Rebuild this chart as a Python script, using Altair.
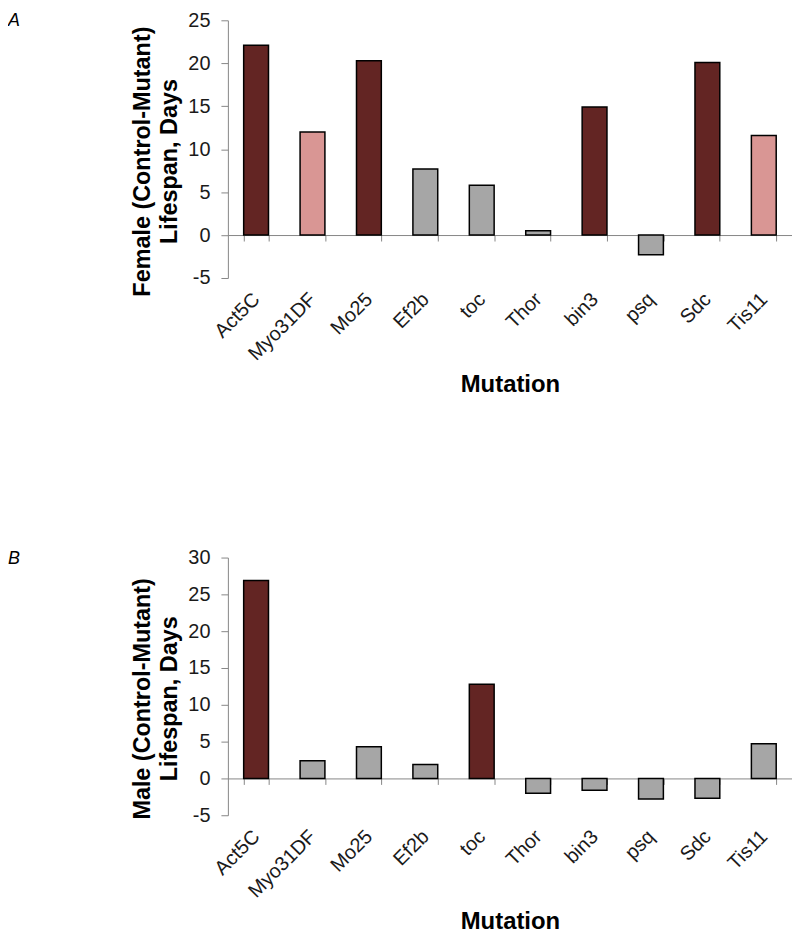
import altair as alt
import pandas as pd

mutations = ["Act5C", "Myo31DF", "Mo25", "Ef2b", "toc", "Thor", "bin3", "psq", "Sdc", "Tis11"]

female_values = [22.1, 12.0, 20.3, 7.7, 5.8, 0.5, 14.9, -2.3, 20.1, 11.6]
female_class = ["dark", "pink", "dark", "gray", "gray", "gray", "dark", "gray", "dark", "pink"]
female_ticks = [-5, 0, 5, 10, 15, 20, 25]

male_values = [26.9, 2.4, 4.3, 1.9, 12.8, -2.0, -1.6, -2.8, -2.7, 4.7]
male_class = ["dark", "gray", "gray", "gray", "dark", "gray", "gray", "gray", "gray", "gray"]
male_ticks = [-5, 0, 5, 10, 15, 20, 25, 30]

class_names = ["dark", "pink", "gray"]
class_colors = ["#632523", "#D99694", "#A6A6A6"]

W, H = 567, 259
FONT = "Liberation Sans"
AXIS_GRAY = "#868686"


def panel(values, classes, ticks, ytitle, letter):
    df = pd.DataFrame({"mutation": mutations, "value": values, "cls": classes})
    lo, hi = ticks[0], ticks[-1]
    zero_off = H * (0 - lo) / (hi - lo)
    zero_y = H - zero_off
    bars = alt.Chart(df).mark_bar(stroke="black", strokeWidth=1.5).encode(
        x=alt.X(
            "mutation:N",
            sort=mutations,
            scale=alt.Scale(paddingInner=0.56, paddingOuter=0.28),
            axis=alt.Axis(
                title="Mutation",
                offset=-zero_off,
                labelAngle=-45,
                labelAlign="right",
                labelBaseline="middle",
                labelPadding=zero_off + 12,
                tickBand="extent",
                tickSize=6,
                tickColor=AXIS_GRAY,
                domainColor=AXIS_GRAY,
                labelFontSize=20,
                titleFontSize=24,
                titleY=366 - zero_y,
                titleBaseline="middle",
            ),
        ),
        y=alt.Y(
            "value:Q",
            scale=alt.Scale(domain=[lo, hi], nice=False),
            axis=alt.Axis(
                values=ticks,
                labelExpr="'' + datum.value",
                title=ytitle,
                tickSize=7,
                tickColor=AXIS_GRAY,
                domainColor=AXIS_GRAY,
                labelFontSize=20,
                labelPadding=11,
                titleFontSize=23.5,
                titleAngle=-90,
                titleX=-86,
                titleY=H / 2 + 12,
                titleAlign="center",
                titleBaseline="middle",
                titleLineHeight=27,
                grid=False,
            ),
        ),
        y2=alt.datum(0),
        color=alt.Color("cls:N", scale=alt.Scale(domain=class_names, range=class_colors), legend=None),
    )
    lab = alt.Chart(pd.DataFrame({"t": [letter]})).mark_text(
        align="left", baseline="top", font=FONT, fontStyle="italic", fontSize=18, color="black"
    ).encode(text="t:N", x=alt.value(-221), y=alt.value(-8))
    return alt.layer(bars, lab).properties(width=W, height=H)


a = panel(female_values, female_class, female_ticks, ["Female (Control-Mutant)", "Lifespan, Days"], "A")
b = panel(male_values, male_class, male_ticks, ["Male (Control-Mutant)", "Lifespan, Days"], "B")

chart = (
    alt.vconcat(a, b, spacing=281, bounds="flush")
    .properties(padding=0)
    .configure_view(stroke=None)
    .configure_axis(
        labelFont=FONT,
        titleFont=FONT,
        labelColor="#1a1a1a",
        titleColor="black",
        titleFontWeight="bold",
        grid=False,
    )
)

chart.save("out.html", embed_options={"renderer": "svg", "actions": False})
